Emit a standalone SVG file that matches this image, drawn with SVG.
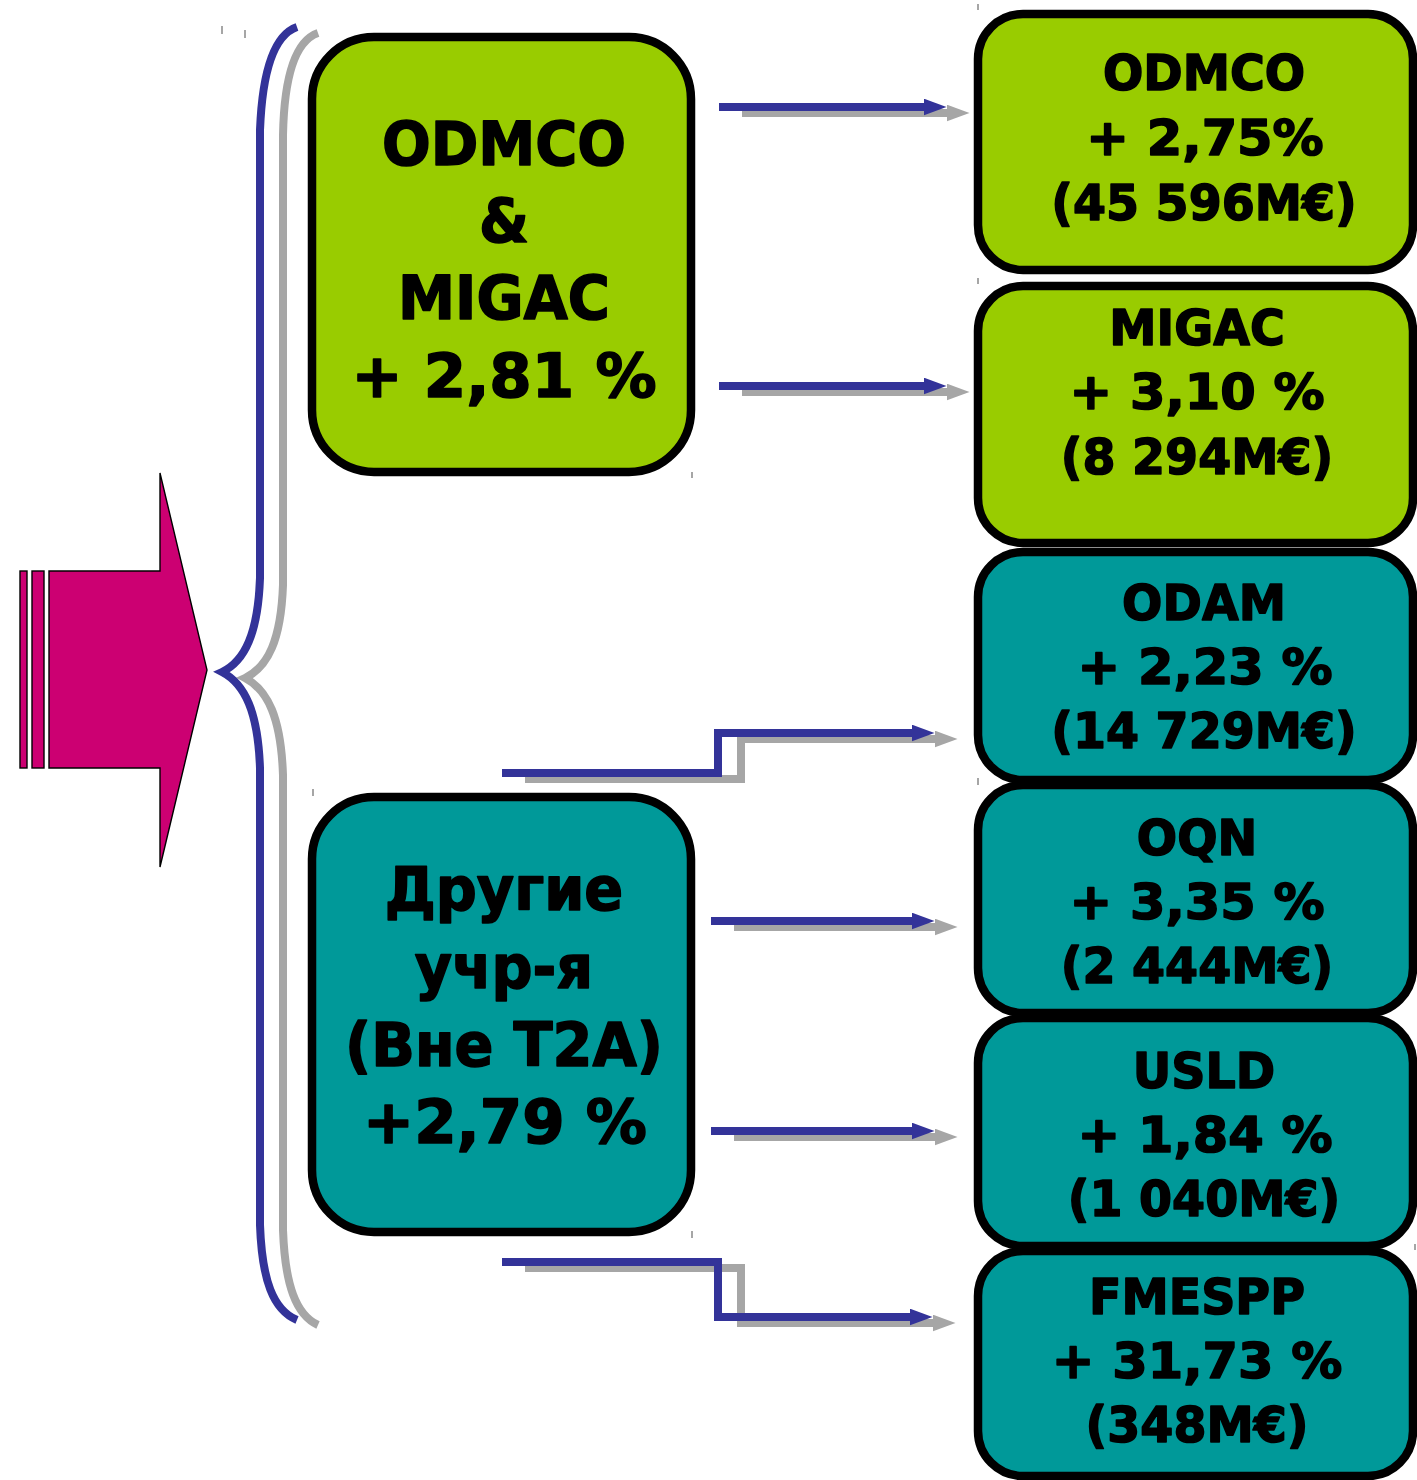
<svg xmlns="http://www.w3.org/2000/svg" width="1417" height="1480" viewBox="0 0 1417 1480">
<style>
  .t { font-family: "DejaVu Sans", Verdana, sans-serif; font-weight: bold; fill: #000; stroke: #000; stroke-width: 1.6; stroke-linejoin: round; text-anchor: middle; }
  .big { font-size: 61px; }
  .small { font-size: 50px; }
  .green { fill: #99cc00; stroke: #000; stroke-width: 8.5; }
  .teal { fill: #009999; stroke: #000; stroke-width: 8.5; }
  .blue { fill: none; stroke: #333399; stroke-width: 8; stroke-linejoin: miter; }
  .gray { fill: none; stroke: #a6a6a6; stroke-width: 8; stroke-linejoin: miter; }
  .tick { stroke: #888; stroke-width: 1.5; }
</style>
<defs>
  <marker id="hb" markerUnits="userSpaceOnUse" viewBox="0 0 23 17" refX="0.5" refY="8.5" markerWidth="23" markerHeight="17" orient="auto">
    <path d="M0,0 L23,8.5 L0,17 Z" fill="#333399"/>
  </marker>
  <marker id="hg" markerUnits="userSpaceOnUse" viewBox="0 0 23 17" refX="0.5" refY="8.5" markerWidth="23" markerHeight="17" orient="auto">
    <path d="M0,0 L23,8.5 L0,17 Z" fill="#a6a6a6"/>
  </marker>
</defs>

<g id="input-arrow">
  <rect x="20" y="571" width="7" height="197" fill="#cc0072" stroke="#000" stroke-width="1.4"/>
  <rect x="32" y="571" width="12" height="197" fill="#cc0072" stroke="#000" stroke-width="1.4"/>
  <path d="M49,571 L160,571 L160,473 L207,670 L160,867 L160,768 L49,768 Z" fill="#cc0072" stroke="#000" stroke-width="1.4"/>
</g>

<g id="brace">
  <path class="gray" d="M318,33 C292,42 284,85 283,135 L283,585 C281,640 268,667 245,678 C268,690 281,718 283,775 L283,1230 C285,1285 296,1315 318,1325" stroke-width="7.5"/>
  <path class="blue" d="M297,27 C271,36 262,80 260,130 L260,578 C258,633 245,661 222,672 C245,684 258,712 260,768 L260,1225 C262,1280 273,1310 297,1320" stroke-width="8.5"/>
</g>

<g id="connectors">
  <g transform="translate(23,6)">
    <path class="gray" d="M719,107 H924" marker-end="url(#hg)"/>
    <path class="gray" d="M719,386 H924" marker-end="url(#hg)"/>
    <path class="gray" d="M502,773 H718 V733 H912" marker-end="url(#hg)"/>
    <path class="gray" d="M711,921 H912" marker-end="url(#hg)"/>
    <path class="gray" d="M711,1131 H912" marker-end="url(#hg)"/>
    <path class="gray" d="M502,1262 H718 V1317 H910" marker-end="url(#hg)"/>
  </g>
  <path class="blue" d="M719,107 H924" marker-end="url(#hb)"/>
  <path class="blue" d="M719,386 H924" marker-end="url(#hb)"/>
  <path class="blue" d="M502,773 H718 V733 H912" marker-end="url(#hb)"/>
  <path class="blue" d="M711,921 H912" marker-end="url(#hb)"/>
  <path class="blue" d="M711,1131 H912" marker-end="url(#hb)"/>
  <path class="blue" d="M502,1262 H718 V1317 H910" marker-end="url(#hb)"/>
</g>

<g id="node-odmco-migac">
  <rect class="green" x="312" y="37" width="379" height="435" rx="62"/>
  <g transform="translate(504,0) scale(0.94,1)">
    <text class="t big" x="0" y="165">ODMCO</text>
    <text class="t big" x="0" y="242">&amp;</text>
    <text class="t big" x="0" y="319">MIGAC</text>
  </g>
  <g transform="translate(504,0) scale(1.0,1)">
    <text class="t big" x="0" y="397">+ 2,81 %</text>
  </g>
</g>

<g id="node-autres">
  <rect class="teal" x="312" y="797" width="379" height="435" rx="62"/>
  <g transform="translate(504,0) scale(0.94,1)">
    <text class="t big" x="0" y="910">Другие</text>
    <text class="t big" x="0" y="988">учр-я</text>
    <text class="t big" x="0" y="1066">(Вне T2A)</text>
  </g>
  <g transform="translate(505,0) scale(1.0,1)">
    <text class="t big" x="0" y="1143">+2,79 %</text>
  </g>
</g>

<g id="node-odmco">
  <rect class="green" x="978" y="14" width="435" height="256" rx="45"/>
  <g transform="translate(1204,0) scale(0.95,1)">
    <text class="t small" x="0" y="90">ODMCO</text>
    <text class="t small" x="0" y="220">(45 596M€)</text>
  </g>
  <g transform="translate(1205,0) scale(1.02,1)">
    <text class="t small" x="0" y="155">+ 2,75%</text>
  </g>
</g>

<g id="node-migac">
  <rect class="green" x="978" y="286" width="435" height="257" rx="45"/>
  <g transform="translate(1197,0) scale(0.95,1)">
    <text class="t small" x="0" y="345">MIGAC</text>
    <text class="t small" x="0" y="474">(8 294M€)</text>
  </g>
  <g transform="translate(1197,0) scale(1.02,1)">
    <text class="t small" x="0" y="409">+ 3,10 %</text>
  </g>
</g>

<g id="node-odam">
  <rect class="teal" x="978" y="552" width="435" height="228" rx="45"/>
  <g transform="translate(1204,0) scale(0.95,1)">
    <text class="t small" x="0" y="620">ODAM</text>
    <text class="t small" x="0" y="748">(14 729M€)</text>
  </g>
  <g transform="translate(1205,0) scale(1.02,1)">
    <text class="t small" x="0" y="684">+ 2,23 %</text>
  </g>
</g>

<g id="node-oqn">
  <rect class="teal" x="978" y="785" width="435" height="228" rx="45"/>
  <g transform="translate(1197,0) scale(0.95,1)">
    <text class="t small" x="0" y="855">OQN</text>
    <text class="t small" x="0" y="983">(2 444M€)</text>
  </g>
  <g transform="translate(1197,0) scale(1.02,1)">
    <text class="t small" x="0" y="919">+ 3,35 %</text>
  </g>
</g>

<g id="node-usld">
  <rect class="teal" x="978" y="1018" width="435" height="228" rx="45"/>
  <g transform="translate(1204,0) scale(0.95,1)">
    <text class="t small" x="0" y="1088">USLD</text>
    <text class="t small" x="0" y="1216">(1 040M€)</text>
  </g>
  <g transform="translate(1205,0) scale(1.02,1)">
    <text class="t small" x="0" y="1152">+ 1,84 %</text>
  </g>
</g>

<g id="node-fmespp">
  <rect class="teal" x="978" y="1251" width="435" height="225" rx="45"/>
  <g transform="translate(1197,0) scale(0.95,1)">
    <text class="t small" x="0" y="1314">FMESPP</text>
    <text class="t small" x="0" y="1442">(348M€)</text>
  </g>
  <g transform="translate(1197,0) scale(1.02,1)">
    <text class="t small" x="0" y="1378">+ 31,73 %</text>
  </g>
</g>

<g id="ticks">
  <line class="tick" x1="222" y1="26" x2="222" y2="34" stroke="#6666aa"/>
  <line class="tick" x1="245" y1="30" x2="245" y2="38"/>
  <line class="tick" x1="978" y1="4" x2="978" y2="10"/>
  <line class="tick" x1="978" y1="278" x2="978" y2="284"/>
  <line class="tick" x1="692" y1="472" x2="692" y2="478"/>
  <line class="tick" x1="313" y1="789" x2="313" y2="796"/>
  <line class="tick" x1="692" y1="1231" x2="692" y2="1238"/>
  <line class="tick" x1="978" y1="778" x2="978" y2="785"/>
  <line class="tick" x1="1415" y1="1244" x2="1415" y2="1250"/>
</g>
</svg>
